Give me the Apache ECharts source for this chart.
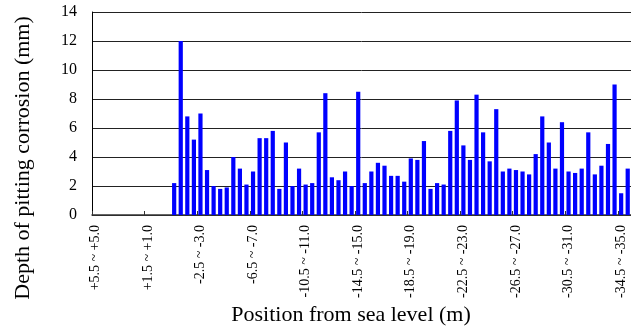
<!DOCTYPE html>
<html>
<head>
<meta charset="utf-8">
<script src="https://cdn.jsdelivr.net/npm/echarts@6/dist/echarts.min.js"></script>
<style>
  html, body { margin: 0; padding: 0; background: #fff; }
  #chart { width: 631px; height: 329px; }
</style>
</head>
<body>
<div id="chart"></div>
<script>
// depth ranges from sea level, 0.5 m steps
const categories = [
  '+5.5 ~ +5.0', '+5.0 ~ +4.5', '+4.5 ~ +4.0', '+4.0 ~ +3.5', '+3.5 ~ +3.0', '+3.0 ~ +2.5',
  '+2.5 ~ +2.0', '+2.0 ~ +1.5', '+1.5 ~ +1.0', '+1.0 ~ +0.5', '+0.5 ~ 0.0', '0.0 ~ -0.5',
  '-0.5 ~ -1.0', '-1.0 ~ -1.5', '-1.5 ~ -2.0', '-2.0 ~ -2.5', '-2.5 ~ -3.0', '-3.0 ~ -3.5',
  '-3.5 ~ -4.0', '-4.0 ~ -4.5', '-4.5 ~ -5.0', '-5.0 ~ -5.5', '-5.5 ~ -6.0', '-6.0 ~ -6.5',
  '-6.5 ~ -7.0', '-7.0 ~ -7.5', '-7.5 ~ -8.0', '-8.0 ~ -8.5', '-8.5 ~ -9.0', '-9.0 ~ -9.5',
  '-9.5 ~ -10.0', '-10.0 ~ -10.5', '-10.5 ~ -11.0', '-11.0 ~ -11.5', '-11.5 ~ -12.0', '-12.0 ~ -12.5',
  '-12.5 ~ -13.0', '-13.0 ~ -13.5', '-13.5 ~ -14.0', '-14.0 ~ -14.5', '-14.5 ~ -15.0', '-15.0 ~ -15.5',
  '-15.5 ~ -16.0', '-16.0 ~ -16.5', '-16.5 ~ -17.0', '-17.0 ~ -17.5', '-17.5 ~ -18.0', '-18.0 ~ -18.5',
  '-18.5 ~ -19.0', '-19.0 ~ -19.5', '-19.5 ~ -20.0', '-20.0 ~ -20.5', '-20.5 ~ -21.0', '-21.0 ~ -21.5',
  '-21.5 ~ -22.0', '-22.0 ~ -22.5', '-22.5 ~ -23.0', '-23.0 ~ -23.5', '-23.5 ~ -24.0', '-24.0 ~ -24.5',
  '-24.5 ~ -25.0', '-25.0 ~ -25.5', '-25.5 ~ -26.0', '-26.0 ~ -26.5', '-26.5 ~ -27.0', '-27.0 ~ -27.5',
  '-27.5 ~ -28.0', '-28.0 ~ -28.5', '-28.5 ~ -29.0', '-29.0 ~ -29.5', '-29.5 ~ -30.0', '-30.0 ~ -30.5',
  '-30.5 ~ -31.0', '-31.0 ~ -31.5', '-31.5 ~ -32.0', '-32.0 ~ -32.5', '-32.5 ~ -33.0', '-33.0 ~ -33.5',
  '-33.5 ~ -34.0', '-34.0 ~ -34.5', '-34.5 ~ -35.0', '-35.0 ~ -35.5'
];

// pitting depth (mm); first 12 ranges have no measurement
const depth = [
  null, null, null, null, null, null, null, null, null, null, null, null,
  2.2, 12.0, 6.8, 5.2, 7.0, 3.1, 2.0, 1.8, 1.9, 4.0,
  3.2, 2.1, 3.0, 5.3, 5.3, 5.8, 1.8, 5.0, 2.0, 3.2,
  2.1, 2.2, 5.7, 8.4, 2.6, 2.4, 3.0, 2.0, 8.5, 2.2,
  3.0, 3.6, 3.4, 2.7, 2.7, 2.3, 3.9, 3.8, 5.1, 1.8,
  2.2, 2.1, 5.8, 7.9, 4.8, 3.8, 8.3, 5.7, 3.7, 7.3,
  3.0, 3.2, 3.1, 3.0, 2.8, 4.2, 6.8, 5.0, 3.2, 6.4,
  3.0, 2.9, 3.2, 5.7, 2.8, 3.4, 4.9, 9.0, 1.5, 3.2
];

const serif = 'Liberation Serif';

const chart = echarts.init(document.getElementById('chart'));

const option = {
  animation: false,
  textStyle: { fontFamily: serif, color: '#000' },
  grid: {
    left: 92,
    top: 12,
    right: -4,
    bottom: 114
  },
  xAxis: {
    type: 'category',
    data: categories,
    axisLine: {
      lineStyle: { color: '#333', width: 1.5 }
    },
    axisTick: {
      show: true,
      inside: true,
      length: 4,
      interval: 7,
      alignWithLabel: false,
      lineStyle: { color: '#333' }
    },
    axisLabel: {
      interval: 7,
      rotate: 90,
      margin: 10,
      fontSize: 14,
      fontFamily: serif,
      color: '#000'
    }
  },
  yAxis: {
    type: 'value',
    min: 0,
    max: 14,
    interval: 2,
    axisLine: {
      show: true,
      lineStyle: { color: '#000', width: 1 }
    },
    axisTick: { show: false },
    axisLabel: {
      margin: 15,
      fontSize: 16,
      fontFamily: serif,
      color: '#000'
    },
    splitLine: {
      lineStyle: { color: '#222', width: 1 }
    }
  },
  graphic: [
    {
      type: 'text',
      x: 23,
      y: 158,
      rotation: Math.PI / 2,
      style: {
        text: 'Depth of pitting corrosion (mm)',
        font: '22px "Liberation Serif"',
        fill: '#000',
        align: 'center',
        verticalAlign: 'middle',
        textAlign: 'center',
        textVerticalAlign: 'middle'
      }
    },
    {
      type: 'text',
      x: 351,
      y: 315,
      style: {
        text: 'Position from sea level (m)',
        font: '22px "Liberation Serif"',
        fill: '#000',
        align: 'center',
        verticalAlign: 'middle',
        textAlign: 'center',
        textVerticalAlign: 'middle'
      }
    }
  ],
  series: [
    {
      type: 'bar',
      data: depth,
      barWidth: '64%',
      itemStyle: { color: '#0000ff' }
    }
  ]
};

chart.setOption(option);
</script>
</body>
</html>
